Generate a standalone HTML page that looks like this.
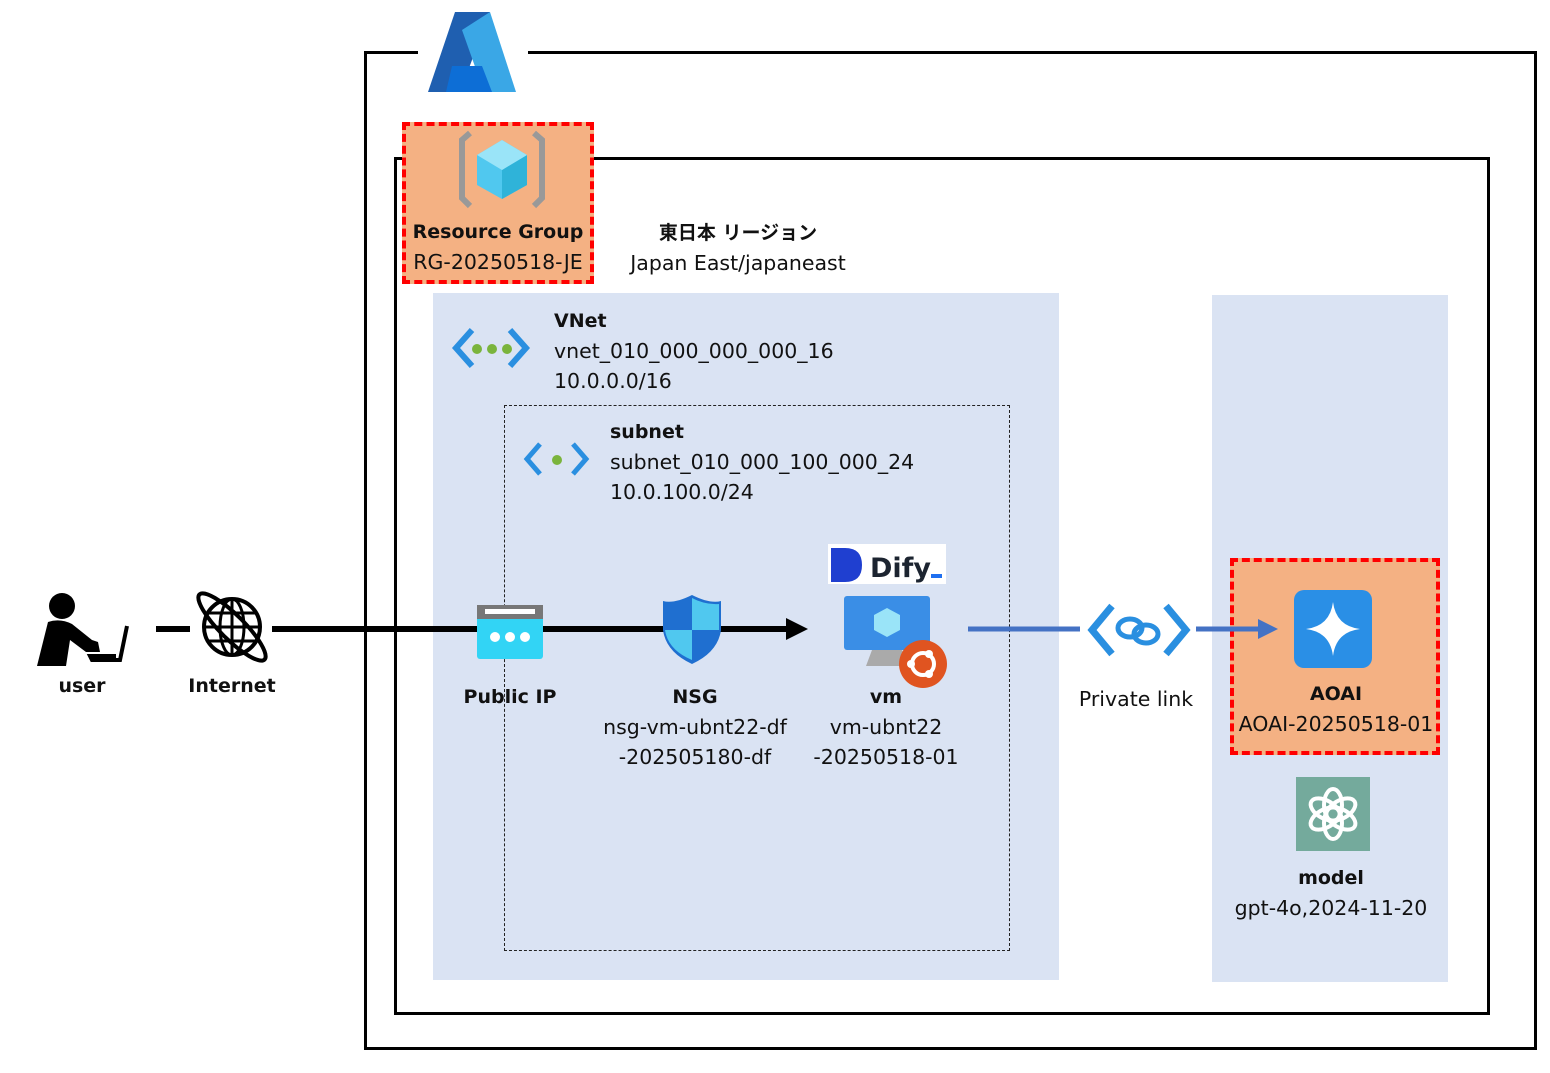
<!DOCTYPE html>
<html><head><meta charset="utf-8"><style>
body{margin:0;width:1550px;height:1073px;background:#fff;position:relative;overflow:hidden;font-family:"DejaVu Sans","Liberation Sans","Noto Sans CJK JP",sans-serif;color:#111}
.a{position:absolute}
.t{position:absolute;font-size:20.5px;white-space:nowrap;text-align:center;line-height:30px}
b{font-weight:bold;font-size:19px}
</style></head><body>
<div class="a" style="left:364px;top:51px;width:1167px;height:993px;border:3px solid #000"></div>
<div class="a" style="left:418px;top:45px;width:110px;height:12px;background:#fff"></div>
<div class="a" style="left:394px;top:157px;width:1090px;height:852px;border:3px solid #000"></div>
<div class="a" style="left:433px;top:293px;width:626px;height:687px;background:#dae3f3"></div>
<div class="a" style="left:1212px;top:295px;width:236px;height:687px;background:#dae3f3"></div>
<div class="a" style="left:504px;top:405px;width:504px;height:544px;border:1px dashed #222"></div>
<div class="a" style="left:402px;top:122px;width:184px;height:154px;background:#f4b183;border:4px dashed #f00"></div>
<div class="a" style="left:1230px;top:558px;width:202px;height:189px;background:#f4b183;border:4px dashed #f00"></div>
<div class="a" style="left:445px;top:150px;width:116px;height:14px;background:#f4b183"></div>
<svg class="a" style="left:0;top:0" width="1550" height="1073">
<path d="M455 12 L490 12 L460 92 L428 92 Z" fill="#1f5fb0"/>
<path d="M490 12 L516 92 L484 92 L462 30 Z" fill="#3aa7e6"/>
<path d="M452 66 L482 66 L492 92 L446 92 Z" fill="#0d6ed6"/>
<path d="M470 133 L462 140 L462 198 L470 206" stroke="#999" stroke-width="6" fill="none"/>
<path d="M534 133 L542 140 L542 198 L534 206" stroke="#999" stroke-width="6" fill="none"/>
<path d="M502 140 L527 155 L527 185 L502 199 L477 185 L477 155 Z" fill="#50c8ef"/>
<path d="M502 170 L527 155 L527 185 L502 199 Z" fill="#2fb3d9"/>
<path d="M502 140 L527 155 L502 170 L477 155 Z" fill="#9ae4f8"/>
<path d="M472 330 L456 348 L472 366 M510 330 L526 348 L510 366" stroke="#2a8fe0" stroke-width="6" fill="none"/>
<circle cx="477" cy="349" r="5" fill="#7ab43c"/><circle cx="492" cy="349" r="5" fill="#7ab43c"/><circle cx="507" cy="349" r="5" fill="#7ab43c"/>
<path d="M540 444 L527 459 L540 474 M573 444 L586 459 L573 474" stroke="#2a8fe0" stroke-width="5" fill="none"/>
<circle cx="557" cy="460" r="5" fill="#7ab43c"/>
<line x1="156" y1="629" x2="190" y2="629" stroke="#000" stroke-width="6"/>
<line x1="272" y1="629" x2="790" y2="629" stroke="#000" stroke-width="6"/>
<path d="M786 618 L808 629 L786 640 Z" fill="#000"/>
<line x1="968" y1="629" x2="1080" y2="629" stroke="#4472c4" stroke-width="5"/>
<line x1="1196" y1="629" x2="1262" y2="629" stroke="#4472c4" stroke-width="5"/>
<path d="M1258 619 L1278 629 L1258 639 Z" fill="#4472c4"/>
<circle cx="62" cy="606" r="13" fill="#000"/>
<path d="M48 622 Q60 618 72 624 L92 640 L98 642 L100 652 L86 652 L70 640 L66 666 L37 666 Z" fill="#000"/>
<path d="M127 626 L120 660 L92 660 L90 656 L116 656" stroke="#000" stroke-width="4" fill="none"/>
<circle cx="232" cy="627" r="28" fill="#fff" stroke="#000" stroke-width="4"/>
<ellipse cx="232" cy="627" rx="12" ry="28" fill="none" stroke="#000" stroke-width="3"/>
<line x1="204" y1="627" x2="260" y2="627" stroke="#000" stroke-width="3"/>
<line x1="208" y1="613" x2="256" y2="613" stroke="#000" stroke-width="3"/>
<line x1="208" y1="641" x2="256" y2="641" stroke="#000" stroke-width="3"/>
<line x1="232" y1="599" x2="232" y2="655" stroke="#000" stroke-width="3"/>
<ellipse cx="232" cy="627" rx="46" ry="12" transform="rotate(45 232 627)" fill="none" stroke="#000" stroke-width="4"/>
<rect x="477" y="605" width="66" height="54" rx="3" fill="#32d4f5"/>
<rect x="477" y="605" width="66" height="14" fill="#777"/>
<rect x="485" y="609" width="50" height="5" fill="#fff"/>
<circle cx="495" cy="637" r="5" fill="#fff"/><circle cx="510" cy="637" r="5" fill="#fff"/><circle cx="525" cy="637" r="5" fill="#fff"/>
<path d="M692 595 Q710 604 721 601 L721 630 Q718 652 692 664 Q666 652 663 630 L663 601 Q674 604 692 595 Z" fill="#1f6fd0"/>
<path d="M692 598 L692 630 L719 630 L719 604 Q705 605 692 598 Z" fill="#50c8ef"/>
<path d="M665 630 L692 630 L692 660 Q668 650 665 630 Z" fill="#50c8ef"/>
<rect x="828" y="544" width="118" height="40" fill="#fff"/>
<path d="M831 548 L845 548 Q862 548 862 565 Q862 582 845 582 L831 582 Z" fill="#1f3fd0"/>
<text x="870" y="577" font-family="DejaVu Sans" font-weight="bold" font-size="27" fill="#1c2430">Dify</text>
<rect x="931" y="574" width="11" height="4" fill="#1f6ff0"/>
<rect x="844" y="596" width="86" height="54" rx="3" fill="#3a8ee6"/>
<path d="M866 666 L872 650 L902 650 L908 666 Z" fill="#aaa"/>
<path d="M887 608 L900 615 L900 630 L887 637 L874 630 L874 615 Z" fill="#9ae4f8"/>
<circle cx="923" cy="664" r="24" fill="#e05420"/>
<circle cx="923" cy="664" r="11" fill="none" stroke="#fff" stroke-width="4"/>
<circle cx="911" cy="664" r="4" fill="#fff"/><circle cx="929" cy="654" r="4" fill="#fff"/><circle cx="929" cy="674" r="4" fill="#fff"/>
<path d="M1112 606 L1092 630 L1112 654 M1166 606 L1186 630 L1166 654" stroke="#2a8fe0" stroke-width="7" fill="none"/>
<ellipse cx="1130" cy="628" rx="12" ry="9" fill="none" stroke="#2a8fe0" stroke-width="5"/>
<ellipse cx="1146" cy="634" rx="12" ry="9" fill="none" stroke="#2a8fe0" stroke-width="5"/>
<rect x="1294" y="590" width="78" height="78" rx="10" fill="#2a8fe6"/>
<path d="M1333 602 Q1336 626 1360 629 Q1336 632 1333 656 Q1330 632 1306 629 Q1330 626 1333 602 Z" fill="#fff"/>
<rect x="1296" y="777" width="74" height="74" fill="#74aa9c"/>
<g fill="none" stroke="#fff" stroke-width="4">
<ellipse cx="1333" cy="805" rx="9" ry="16"/><ellipse cx="1333" cy="805" rx="9" ry="16" transform="rotate(60 1333 814)"/><ellipse cx="1333" cy="805" rx="9" ry="16" transform="rotate(120 1333 814)"/><ellipse cx="1333" cy="805" rx="9" ry="16" transform="rotate(180 1333 814)"/><ellipse cx="1333" cy="805" rx="9" ry="16" transform="rotate(240 1333 814)"/><ellipse cx="1333" cy="805" rx="9" ry="16" transform="rotate(300 1333 814)"/>
</g>
</svg>
<div class="t" style="left:398px;top:216px;width:200px"><b>Resource Group</b><br>RG-20250518-JE</div>
<div class="t" style="left:618px;top:217px;width:240px"><b>東日本 リージョン</b><br>Japan East/japaneast</div>
<div class="t" style="left:554px;top:305px;text-align:left"><b>VNet</b><br>vnet_010_000_000_000_16<br>10.0.0.0/16</div>
<div class="t" style="left:610px;top:416px;text-align:left"><b>subnet</b><br>subnet_010_000_100_000_24<br>10.0.100.0/24</div>
<div class="t" style="left:30px;top:670px;width:104px"><b>user</b></div>
<div class="t" style="left:170px;top:670px;width:124px"><b>Internet</b></div>
<div class="t" style="left:440px;top:681px;width:140px"><b>Public IP</b></div>
<div class="t" style="left:590px;top:681px;width:210px"><b>NSG</b><br>nsg-vm-ubnt22-df<br>-202505180-df</div>
<div class="t" style="left:786px;top:681px;width:200px"><b>vm</b><br>vm-ubnt22<br>-20250518-01</div>
<div class="t" style="left:1066px;top:684px;width:140px">Private link</div>
<div class="t" style="left:1226px;top:678px;width:220px"><b>AOAI</b><br>AOAI-20250518-01</div>
<div class="t" style="left:1220px;top:862px;width:222px"><b>model</b><br>gpt-4o,2024-11-20</div>
</body></html>
